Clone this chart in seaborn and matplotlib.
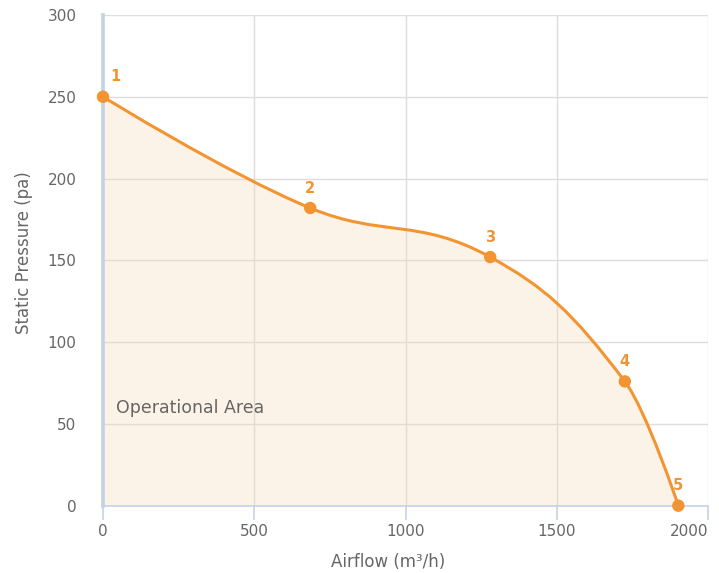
import numpy as np
import pandas as pd
import seaborn as sns
import matplotlib.pyplot as plt
from matplotlib.path import Path
from matplotlib.patches import PathPatch

# Fan curve points
airflow = [0, 685, 1280, 1725, 1902]
pressure = [250, 182, 152, 76, 0]
point_labels = ["1", "2", "3", "4", "5"]

x_ticks = [0, 500, 1000, 1500, 2000]
y_ticks = [0, 50, 100, 150, 200, 250, 300]

ORANGE = "#f39433"
FILL = "#f7d9b4"
AXIS_BLUE = "#c3d3e6"
GREY = "#666666"


def spline_controls(xs, ys, smoothing=1.5):
    # Highcharts style spline: control points for each cubic segment
    n = len(xs)
    denom = smoothing + 1
    left = [(xs[i], ys[i]) for i in range(n)]
    right = [(xs[i], ys[i]) for i in range(n)]
    for i in range(1, n - 1):
        px, py = xs[i], ys[i]
        lx, ly = xs[i - 1], ys[i - 1]
        nx, ny = xs[i + 1], ys[i + 1]
        lcx = (smoothing * px + lx) / denom
        lcy = (smoothing * py + ly) / denom
        rcx = (smoothing * px + nx) / denom
        rcy = (smoothing * py + ny) / denom
        corr = 0
        if rcx != lcx:
            corr = (rcy - lcy) * (rcx - px) / (rcx - lcx) + py - rcy
        lcy += corr
        rcy += corr
        if lcy > ly and lcy > py:
            lcy = max(ly, py)
            rcy = 2 * py - lcy
        elif lcy < ly and lcy < py:
            lcy = min(ly, py)
            rcy = 2 * py - lcy
        if rcy > ny and rcy > py:
            rcy = max(ny, py)
            lcy = 2 * py - rcy
        elif rcy < ny and rcy < py:
            rcy = min(ny, py)
            lcy = 2 * py - rcy
        left[i] = (lcx, lcy)
        right[i] = (rcx, rcy)
    verts = [(xs[0], ys[0])]
    codes = [Path.MOVETO]
    for i in range(1, n):
        verts += [right[i - 1], left[i], (xs[i], ys[i])]
        codes += [Path.CURVE4] * 3
    return verts, codes


sns.set_theme(style="whitegrid")
plt.rcParams["font.family"] = ["DejaVu Sans"]

df = pd.DataFrame({"airflow": airflow, "pressure": pressure, "label": point_labels})

fig = plt.figure(figsize=(7.19, 5.73), dpi=100)
ax = fig.add_axes([103 / 719, 1 - 505.7 / 573, 605 / 719, 490.7 / 573])

verts, codes = spline_controls(airflow, pressure)

# filled operational area under the curve
fill_verts = verts + [(airflow[-1], 0), (airflow[0], 0), (airflow[0], pressure[0])]
fill_codes = codes + [Path.LINETO, Path.LINETO, Path.CLOSEPOLY]
ax.add_patch(PathPatch(Path(fill_verts, fill_codes), facecolor=FILL,
                       edgecolor="none", alpha=0.3, zorder=1))
ax.add_patch(PathPatch(Path(verts, codes), facecolor="none",
                       edgecolor=ORANGE, lw=2.2, zorder=3, capstyle="round"))

sns.scatterplot(data=df, x="airflow", y="pressure", color=ORANGE, s=80,
                edgecolor="none", zorder=4, clip_on=False, ax=ax)

for i, row in df.iterrows():
    dx = 9 if i == 0 else 0
    ax.annotate(row["label"], (row["airflow"], row["pressure"]),
                xytext=(dx, 9), textcoords="offset points", ha="center",
                va="bottom", color=ORANGE, fontsize=10.5, fontweight="bold",
                zorder=5)

ax.text(43, 60, "Operational Area", color=GREY, fontsize=12.5, va="center",
        ha="left", zorder=5)

ax.set_xlim(0, 2000)
ax.set_ylim(0, 300)
ax.set_xticks(x_ticks)
ax.set_yticks(y_ticks)
ax.grid(True, color="#dddddd", lw=1)
ax.set_axisbelow(True)

for side in ["top", "right"]:
    ax.spines[side].set_visible(False)
ax.spines["left"].set_color(AXIS_BLUE)
ax.spines["left"].set_linewidth(2.6)
ax.spines["bottom"].set_color(AXIS_BLUE)
ax.spines["bottom"].set_linewidth(1.2)

ax.tick_params(axis="x", length=10, width=1.2, color=AXIS_BLUE, pad=3,
               labelsize=11, labelcolor=GREY, bottom=True)
ax.tick_params(axis="y", length=0, pad=19, labelsize=11, labelcolor=GREY)
# last x label sits inside the plot edge, like the reference
ax.get_xticklabels()[-1].set_horizontalalignment("right")

ax.set_xlabel("Airflow (m³/h)", color=GREY, fontsize=12)
ax.set_ylabel("Static Pressure (pa)", color=GREY, fontsize=12)
ax.xaxis.set_label_coords((388 - 103) / 605, -0.097)
ax.yaxis.set_label_coords(-0.115, (505.7 - 253) / 490.7)

fig.savefig("out.png", dpi=100)
